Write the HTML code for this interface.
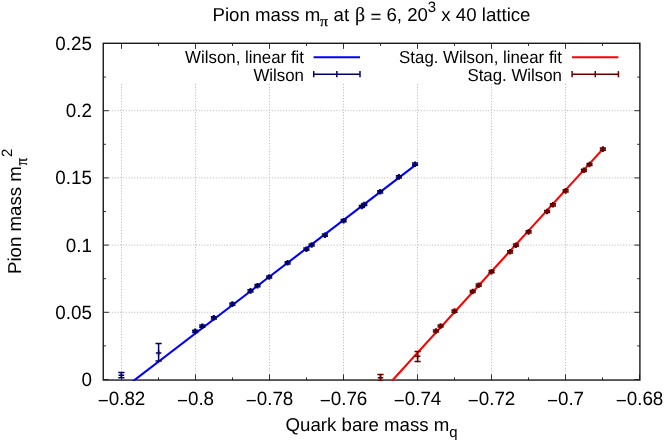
<!DOCTYPE html>
<html><head><meta charset="utf-8"><title>Pion mass</title>
<style>
html,body{margin:0;padding:0;background:#fff;}
svg{display:block;will-change:transform;}
text{font-family:"Liberation Sans",sans-serif;fill:#000;text-rendering:geometricPrecision;}
.sym{font-family:"Liberation Serif",serif;}
</style></head><body>
<svg width="664" height="442" viewBox="0 0 664 442">
<rect x="0" y="0" width="664" height="442" fill="#ffffff"/>
<g stroke="#bcbcbc" stroke-width="1" stroke-dasharray="1.1 1.71" fill="none">
<line x1="121.50" y1="380.05" x2="121.50" y2="83.5"/>
<line x1="195.50" y1="380.05" x2="195.50" y2="83.5"/>
<line x1="269.50" y1="380.05" x2="269.50" y2="83.5"/>
<line x1="343.50" y1="380.05" x2="343.50" y2="83.5"/>
<line x1="417.50" y1="380.05" x2="417.50" y2="83.5"/>
<line x1="491.50" y1="380.05" x2="491.50" y2="83.5"/>
<line x1="565.50" y1="380.05" x2="565.50" y2="83.5"/>
<line x1="103.25" y1="312.30" x2="639.90" y2="312.30"/>
<line x1="103.25" y1="245.10" x2="639.90" y2="245.10"/>
<line x1="103.25" y1="177.90" x2="639.90" y2="177.90"/>
<line x1="103.25" y1="110.70" x2="639.90" y2="110.70"/>
</g>
<g stroke="#262626" stroke-width="0.95" fill="none">
<line x1="121.50" y1="380.05" x2="121.50" y2="374.45"/><line x1="121.50" y1="43.30" x2="121.50" y2="48.90"/>
<line x1="195.50" y1="380.05" x2="195.50" y2="374.45"/><line x1="195.50" y1="43.30" x2="195.50" y2="48.90"/>
<line x1="269.50" y1="380.05" x2="269.50" y2="374.45"/><line x1="269.50" y1="43.30" x2="269.50" y2="48.90"/>
<line x1="343.50" y1="380.05" x2="343.50" y2="374.45"/><line x1="343.50" y1="43.30" x2="343.50" y2="48.90"/>
<line x1="417.50" y1="380.05" x2="417.50" y2="374.45"/><line x1="417.50" y1="43.30" x2="417.50" y2="48.90"/>
<line x1="491.50" y1="380.05" x2="491.50" y2="374.45"/><line x1="491.50" y1="43.30" x2="491.50" y2="48.90"/>
<line x1="565.50" y1="380.05" x2="565.50" y2="374.45"/><line x1="565.50" y1="43.30" x2="565.50" y2="48.90"/>
<line x1="639.50" y1="380.05" x2="639.50" y2="374.45"/><line x1="639.50" y1="43.30" x2="639.50" y2="48.90"/>
<line x1="158.50" y1="380.05" x2="158.50" y2="377.35"/><line x1="158.50" y1="43.30" x2="158.50" y2="46.00"/>
<line x1="232.50" y1="380.05" x2="232.50" y2="377.35"/><line x1="232.50" y1="43.30" x2="232.50" y2="46.00"/>
<line x1="306.50" y1="380.05" x2="306.50" y2="377.35"/><line x1="306.50" y1="43.30" x2="306.50" y2="46.00"/>
<line x1="380.50" y1="380.05" x2="380.50" y2="377.35"/><line x1="380.50" y1="43.30" x2="380.50" y2="46.00"/>
<line x1="454.50" y1="380.05" x2="454.50" y2="377.35"/><line x1="454.50" y1="43.30" x2="454.50" y2="46.00"/>
<line x1="528.50" y1="380.05" x2="528.50" y2="377.35"/><line x1="528.50" y1="43.30" x2="528.50" y2="46.00"/>
<line x1="602.50" y1="380.05" x2="602.50" y2="377.35"/><line x1="602.50" y1="43.30" x2="602.50" y2="46.00"/>
<line x1="103.25" y1="379.50" x2="108.85" y2="379.50"/><line x1="639.90" y1="379.50" x2="634.30" y2="379.50"/>
<line x1="103.25" y1="312.30" x2="108.85" y2="312.30"/><line x1="639.90" y1="312.30" x2="634.30" y2="312.30"/>
<line x1="103.25" y1="245.10" x2="108.85" y2="245.10"/><line x1="639.90" y1="245.10" x2="634.30" y2="245.10"/>
<line x1="103.25" y1="177.90" x2="108.85" y2="177.90"/><line x1="639.90" y1="177.90" x2="634.30" y2="177.90"/>
<line x1="103.25" y1="110.70" x2="108.85" y2="110.70"/><line x1="639.90" y1="110.70" x2="634.30" y2="110.70"/>
<line x1="103.25" y1="43.50" x2="108.85" y2="43.50"/><line x1="639.90" y1="43.50" x2="634.30" y2="43.50"/>
<line x1="103.25" y1="345.90" x2="105.95" y2="345.90"/><line x1="639.90" y1="345.90" x2="637.20" y2="345.90"/>
<line x1="103.25" y1="278.70" x2="105.95" y2="278.70"/><line x1="639.90" y1="278.70" x2="637.20" y2="278.70"/>
<line x1="103.25" y1="211.50" x2="105.95" y2="211.50"/><line x1="639.90" y1="211.50" x2="637.20" y2="211.50"/>
<line x1="103.25" y1="144.30" x2="105.95" y2="144.30"/><line x1="639.90" y1="144.30" x2="637.20" y2="144.30"/>
<line x1="103.25" y1="77.10" x2="105.95" y2="77.10"/><line x1="639.90" y1="77.10" x2="637.20" y2="77.10"/>
</g>
<rect x="103.25" y="43.3" width="536.65" height="336.75" fill="none" stroke="#1a1a1a" stroke-width="1.4"/>
<clipPath id="cp"><rect x="102.5" y="42.6" width="538.1" height="338.1"/></clipPath>
<g clip-path="url(#cp)">
<line x1="130.88" y1="382.80" x2="415.00" y2="165.30" stroke="#0000ff" stroke-width="2.1"/>
<line x1="390.17" y1="382.80" x2="602.80" y2="149.10" stroke="#ff0000" stroke-width="2.1"/>
<g stroke="#000066" stroke-width="1.5" fill="none"><line x1="121.40" y1="377.80" x2="121.40" y2="372.50"/><line x1="118.30" y1="377.80" x2="124.50" y2="377.80"/><line x1="118.30" y1="372.50" x2="124.50" y2="372.50"/><line x1="118.60" y1="375.20" x2="124.20" y2="375.20"/><line x1="121.40" y1="372.40" x2="121.40" y2="378.00" stroke-width="1.5"/></g>
<g stroke="#000066" stroke-width="1.5" fill="none"><line x1="158.60" y1="361.10" x2="158.60" y2="343.40"/><line x1="155.50" y1="361.10" x2="161.70" y2="361.10"/><line x1="155.50" y1="343.40" x2="161.70" y2="343.40"/><line x1="155.80" y1="353.00" x2="161.40" y2="353.00"/><line x1="158.60" y1="350.20" x2="158.60" y2="355.80" stroke-width="1.5"/></g>
<g stroke="#000066" stroke-width="1.5" fill="none"><line x1="195.20" y1="332.50" x2="195.20" y2="330.30"/><line x1="192.10" y1="332.50" x2="198.30" y2="332.50"/><line x1="192.10" y1="330.30" x2="198.30" y2="330.30"/><line x1="192.40" y1="331.40" x2="198.00" y2="331.40"/><line x1="195.20" y1="328.60" x2="195.20" y2="334.20" stroke-width="2.1"/></g>
<g stroke="#000066" stroke-width="1.5" fill="none"><line x1="202.30" y1="327.30" x2="202.30" y2="325.10"/><line x1="199.20" y1="327.30" x2="205.40" y2="327.30"/><line x1="199.20" y1="325.10" x2="205.40" y2="325.10"/><line x1="199.50" y1="326.20" x2="205.10" y2="326.20"/><line x1="202.30" y1="323.40" x2="202.30" y2="329.00" stroke-width="2.1"/></g>
<g stroke="#000066" stroke-width="1.5" fill="none"><line x1="213.90" y1="318.90" x2="213.90" y2="316.70"/><line x1="210.80" y1="318.90" x2="217.00" y2="318.90"/><line x1="210.80" y1="316.70" x2="217.00" y2="316.70"/><line x1="211.10" y1="317.80" x2="216.70" y2="317.80"/><line x1="213.90" y1="315.00" x2="213.90" y2="320.60" stroke-width="2.1"/></g>
<g stroke="#000066" stroke-width="1.5" fill="none"><line x1="232.40" y1="305.20" x2="232.40" y2="303.00"/><line x1="229.30" y1="305.20" x2="235.50" y2="305.20"/><line x1="229.30" y1="303.00" x2="235.50" y2="303.00"/><line x1="229.60" y1="304.10" x2="235.20" y2="304.10"/><line x1="232.40" y1="301.30" x2="232.40" y2="306.90" stroke-width="2.1"/></g>
<g stroke="#000066" stroke-width="1.5" fill="none"><line x1="250.50" y1="292.00" x2="250.50" y2="289.80"/><line x1="247.40" y1="292.00" x2="253.60" y2="292.00"/><line x1="247.40" y1="289.80" x2="253.60" y2="289.80"/><line x1="247.70" y1="290.90" x2="253.30" y2="290.90"/><line x1="250.50" y1="288.10" x2="250.50" y2="293.70" stroke-width="2.1"/></g>
<g stroke="#000066" stroke-width="1.5" fill="none"><line x1="257.50" y1="286.80" x2="257.50" y2="284.60"/><line x1="254.40" y1="286.80" x2="260.60" y2="286.80"/><line x1="254.40" y1="284.60" x2="260.60" y2="284.60"/><line x1="254.70" y1="285.70" x2="260.30" y2="285.70"/><line x1="257.50" y1="282.90" x2="257.50" y2="288.50" stroke-width="2.1"/></g>
<g stroke="#000066" stroke-width="1.5" fill="none"><line x1="269.20" y1="278.10" x2="269.20" y2="275.90"/><line x1="266.10" y1="278.10" x2="272.30" y2="278.10"/><line x1="266.10" y1="275.90" x2="272.30" y2="275.90"/><line x1="266.40" y1="277.00" x2="272.00" y2="277.00"/><line x1="269.20" y1="274.20" x2="269.20" y2="279.80" stroke-width="2.1"/></g>
<g stroke="#000066" stroke-width="1.5" fill="none"><line x1="287.60" y1="263.90" x2="287.60" y2="261.70"/><line x1="284.50" y1="263.90" x2="290.70" y2="263.90"/><line x1="284.50" y1="261.70" x2="290.70" y2="261.70"/><line x1="284.80" y1="262.80" x2="290.40" y2="262.80"/><line x1="287.60" y1="260.00" x2="287.60" y2="265.60" stroke-width="2.1"/></g>
<g stroke="#000066" stroke-width="1.5" fill="none"><line x1="306.40" y1="250.30" x2="306.40" y2="248.10"/><line x1="303.30" y1="250.30" x2="309.50" y2="250.30"/><line x1="303.30" y1="248.10" x2="309.50" y2="248.10"/><line x1="303.60" y1="249.20" x2="309.20" y2="249.20"/><line x1="306.40" y1="246.40" x2="306.40" y2="252.00" stroke-width="2.1"/></g>
<g stroke="#000066" stroke-width="1.5" fill="none"><line x1="311.65" y1="246.10" x2="311.65" y2="243.90"/><line x1="308.55" y1="246.10" x2="314.75" y2="246.10"/><line x1="308.55" y1="243.90" x2="314.75" y2="243.90"/><line x1="308.85" y1="245.00" x2="314.45" y2="245.00"/><line x1="311.65" y1="242.20" x2="311.65" y2="247.80" stroke-width="2.1"/></g>
<g stroke="#000066" stroke-width="1.5" fill="none"><line x1="324.90" y1="236.30" x2="324.90" y2="234.10"/><line x1="321.80" y1="236.30" x2="328.00" y2="236.30"/><line x1="321.80" y1="234.10" x2="328.00" y2="234.10"/><line x1="322.10" y1="235.20" x2="327.70" y2="235.20"/><line x1="324.90" y1="232.40" x2="324.90" y2="238.00" stroke-width="2.1"/></g>
<g stroke="#000066" stroke-width="1.5" fill="none"><line x1="343.60" y1="221.80" x2="343.60" y2="219.60"/><line x1="340.50" y1="221.80" x2="346.70" y2="221.80"/><line x1="340.50" y1="219.60" x2="346.70" y2="219.60"/><line x1="340.80" y1="220.70" x2="346.40" y2="220.70"/><line x1="343.60" y1="217.90" x2="343.60" y2="223.50" stroke-width="2.1"/></g>
<g stroke="#000066" stroke-width="1.5" fill="none"><line x1="361.80" y1="207.60" x2="361.80" y2="205.40"/><line x1="358.70" y1="207.60" x2="364.90" y2="207.60"/><line x1="358.70" y1="205.40" x2="364.90" y2="205.40"/><line x1="359.00" y1="206.50" x2="364.60" y2="206.50"/><line x1="361.80" y1="203.70" x2="361.80" y2="209.30" stroke-width="2.1"/></g>
<g stroke="#000066" stroke-width="1.5" fill="none"><line x1="364.30" y1="205.60" x2="364.30" y2="203.40"/><line x1="361.20" y1="205.60" x2="367.40" y2="205.60"/><line x1="361.20" y1="203.40" x2="367.40" y2="203.40"/><line x1="361.50" y1="204.50" x2="367.10" y2="204.50"/><line x1="364.30" y1="201.70" x2="364.30" y2="207.30" stroke-width="2.1"/></g>
<g stroke="#000066" stroke-width="1.5" fill="none"><line x1="380.20" y1="192.90" x2="380.20" y2="190.70"/><line x1="377.10" y1="192.90" x2="383.30" y2="192.90"/><line x1="377.10" y1="190.70" x2="383.30" y2="190.70"/><line x1="377.40" y1="191.80" x2="383.00" y2="191.80"/><line x1="380.20" y1="189.00" x2="380.20" y2="194.60" stroke-width="2.1"/></g>
<g stroke="#000066" stroke-width="1.5" fill="none"><line x1="398.90" y1="178.00" x2="398.90" y2="175.80"/><line x1="395.80" y1="178.00" x2="402.00" y2="178.00"/><line x1="395.80" y1="175.80" x2="402.00" y2="175.80"/><line x1="396.10" y1="176.90" x2="401.70" y2="176.90"/><line x1="398.90" y1="174.10" x2="398.90" y2="179.70" stroke-width="2.1"/></g>
<g stroke="#000066" stroke-width="1.5" fill="none"><line x1="415.05" y1="165.30" x2="415.05" y2="163.10"/><line x1="411.95" y1="165.30" x2="418.15" y2="165.30"/><line x1="411.95" y1="163.10" x2="418.15" y2="163.10"/><line x1="412.25" y1="164.20" x2="417.85" y2="164.20"/><line x1="415.05" y1="161.40" x2="415.05" y2="167.00" stroke-width="2.1"/></g>
<g stroke="#660000" stroke-width="1.5" fill="none"><line x1="380.50" y1="381.00" x2="380.50" y2="374.60"/><line x1="377.40" y1="381.00" x2="383.60" y2="381.00"/><line x1="377.40" y1="374.60" x2="383.60" y2="374.60"/><line x1="377.70" y1="377.80" x2="383.30" y2="377.80"/><line x1="380.50" y1="375.00" x2="380.50" y2="380.60" stroke-width="1.5"/></g>
<g stroke="#660000" stroke-width="1.5" fill="none"><line x1="417.60" y1="361.40" x2="417.60" y2="351.40"/><line x1="414.50" y1="361.40" x2="420.70" y2="361.40"/><line x1="414.50" y1="351.40" x2="420.70" y2="351.40"/><line x1="414.80" y1="356.30" x2="420.40" y2="356.30"/><line x1="417.60" y1="353.50" x2="417.60" y2="359.10" stroke-width="1.5"/></g>
<g stroke="#660000" stroke-width="1.5" fill="none"><line x1="435.90" y1="332.10" x2="435.90" y2="329.90"/><line x1="432.80" y1="332.10" x2="439.00" y2="332.10"/><line x1="432.80" y1="329.90" x2="439.00" y2="329.90"/><line x1="433.10" y1="331.00" x2="438.70" y2="331.00"/><line x1="435.90" y1="328.20" x2="435.90" y2="333.80" stroke-width="2.1"/></g>
<g stroke="#660000" stroke-width="1.5" fill="none"><line x1="440.60" y1="327.10" x2="440.60" y2="324.90"/><line x1="437.50" y1="327.10" x2="443.70" y2="327.10"/><line x1="437.50" y1="324.90" x2="443.70" y2="324.90"/><line x1="437.80" y1="326.00" x2="443.40" y2="326.00"/><line x1="440.60" y1="323.20" x2="440.60" y2="328.80" stroke-width="2.1"/></g>
<g stroke="#660000" stroke-width="1.5" fill="none"><line x1="454.50" y1="312.20" x2="454.50" y2="310.00"/><line x1="451.40" y1="312.20" x2="457.60" y2="312.20"/><line x1="451.40" y1="310.00" x2="457.60" y2="310.00"/><line x1="451.70" y1="311.10" x2="457.30" y2="311.10"/><line x1="454.50" y1="308.30" x2="454.50" y2="313.90" stroke-width="2.1"/></g>
<g stroke="#660000" stroke-width="1.5" fill="none"><line x1="472.70" y1="292.60" x2="472.70" y2="290.40"/><line x1="469.60" y1="292.60" x2="475.80" y2="292.60"/><line x1="469.60" y1="290.40" x2="475.80" y2="290.40"/><line x1="469.90" y1="291.50" x2="475.50" y2="291.50"/><line x1="472.70" y1="288.70" x2="472.70" y2="294.30" stroke-width="2.1"/></g>
<g stroke="#660000" stroke-width="1.5" fill="none"><line x1="478.70" y1="286.30" x2="478.70" y2="284.10"/><line x1="475.60" y1="286.30" x2="481.80" y2="286.30"/><line x1="475.60" y1="284.10" x2="481.80" y2="284.10"/><line x1="475.90" y1="285.20" x2="481.50" y2="285.20"/><line x1="478.70" y1="282.40" x2="478.70" y2="288.00" stroke-width="2.1"/></g>
<g stroke="#660000" stroke-width="1.5" fill="none"><line x1="491.55" y1="272.80" x2="491.55" y2="270.60"/><line x1="488.45" y1="272.80" x2="494.65" y2="272.80"/><line x1="488.45" y1="270.60" x2="494.65" y2="270.60"/><line x1="488.75" y1="271.70" x2="494.35" y2="271.70"/><line x1="491.55" y1="268.90" x2="491.55" y2="274.50" stroke-width="2.1"/></g>
<g stroke="#660000" stroke-width="1.5" fill="none"><line x1="510.10" y1="252.90" x2="510.10" y2="250.70"/><line x1="507.00" y1="252.90" x2="513.20" y2="252.90"/><line x1="507.00" y1="250.70" x2="513.20" y2="250.70"/><line x1="507.30" y1="251.80" x2="512.90" y2="251.80"/><line x1="510.10" y1="249.00" x2="510.10" y2="254.60" stroke-width="2.1"/></g>
<g stroke="#660000" stroke-width="1.5" fill="none"><line x1="515.90" y1="246.30" x2="515.90" y2="244.10"/><line x1="512.80" y1="246.30" x2="519.00" y2="246.30"/><line x1="512.80" y1="244.10" x2="519.00" y2="244.10"/><line x1="513.10" y1="245.20" x2="518.70" y2="245.20"/><line x1="515.90" y1="242.40" x2="515.90" y2="248.00" stroke-width="2.1"/></g>
<g stroke="#660000" stroke-width="1.5" fill="none"><line x1="528.60" y1="232.95" x2="528.60" y2="230.75"/><line x1="525.50" y1="232.95" x2="531.70" y2="232.95"/><line x1="525.50" y1="230.75" x2="531.70" y2="230.75"/><line x1="525.80" y1="231.85" x2="531.40" y2="231.85"/><line x1="528.60" y1="229.05" x2="528.60" y2="234.65" stroke-width="2.1"/></g>
<g stroke="#660000" stroke-width="1.5" fill="none"><line x1="547.10" y1="212.60" x2="547.10" y2="210.40"/><line x1="544.00" y1="212.60" x2="550.20" y2="212.60"/><line x1="544.00" y1="210.40" x2="550.20" y2="210.40"/><line x1="544.30" y1="211.50" x2="549.90" y2="211.50"/><line x1="547.10" y1="208.70" x2="547.10" y2="214.30" stroke-width="2.1"/></g>
<g stroke="#660000" stroke-width="1.5" fill="none"><line x1="552.90" y1="205.90" x2="552.90" y2="203.70"/><line x1="549.80" y1="205.90" x2="556.00" y2="205.90"/><line x1="549.80" y1="203.70" x2="556.00" y2="203.70"/><line x1="550.10" y1="204.80" x2="555.70" y2="204.80"/><line x1="552.90" y1="202.00" x2="552.90" y2="207.60" stroke-width="2.1"/></g>
<g stroke="#660000" stroke-width="1.5" fill="none"><line x1="565.60" y1="192.00" x2="565.60" y2="189.80"/><line x1="562.50" y1="192.00" x2="568.70" y2="192.00"/><line x1="562.50" y1="189.80" x2="568.70" y2="189.80"/><line x1="562.80" y1="190.90" x2="568.40" y2="190.90"/><line x1="565.60" y1="188.10" x2="565.60" y2="193.70" stroke-width="2.1"/></g>
<g stroke="#660000" stroke-width="1.5" fill="none"><line x1="583.90" y1="171.40" x2="583.90" y2="169.20"/><line x1="580.80" y1="171.40" x2="587.00" y2="171.40"/><line x1="580.80" y1="169.20" x2="587.00" y2="169.20"/><line x1="581.10" y1="170.30" x2="586.70" y2="170.30"/><line x1="583.90" y1="167.50" x2="583.90" y2="173.10" stroke-width="2.1"/></g>
<g stroke="#660000" stroke-width="1.5" fill="none"><line x1="589.50" y1="165.60" x2="589.50" y2="163.40"/><line x1="586.40" y1="165.60" x2="592.60" y2="165.60"/><line x1="586.40" y1="163.40" x2="592.60" y2="163.40"/><line x1="586.70" y1="164.50" x2="592.30" y2="164.50"/><line x1="589.50" y1="161.70" x2="589.50" y2="167.30" stroke-width="2.1"/></g>
<g stroke="#660000" stroke-width="1.5" fill="none"><line x1="602.90" y1="150.20" x2="602.90" y2="148.00"/><line x1="599.80" y1="150.20" x2="606.00" y2="150.20"/><line x1="599.80" y1="148.00" x2="606.00" y2="148.00"/><line x1="600.10" y1="149.10" x2="605.70" y2="149.10"/><line x1="602.90" y1="146.30" x2="602.90" y2="151.90" stroke-width="2.1"/></g>
</g>
<text transform="translate(304,63.3) scale(1,1.03)" font-size="16.85" text-anchor="end">Wilson, linear fit</text>
<text transform="translate(304,80.5) scale(1,1.03)" font-size="16.85" text-anchor="end">Wilson</text>
<text transform="translate(562,63.3) scale(1,1.03)" font-size="16.85" text-anchor="end">Stag. Wilson, linear fit</text>
<text transform="translate(562,80.5) scale(1,1.03)" font-size="16.85" text-anchor="end">Stag. Wilson</text>
<line x1="313.6" y1="57.3" x2="360.0" y2="57.3" stroke="#0000ff" stroke-width="2.1"/>
<line x1="572.0" y1="57.3" x2="618.4" y2="57.3" stroke="#ff0000" stroke-width="2.1"/>
<g stroke="#000066" stroke-width="1.5" fill="none"><line x1="313.7" y1="74.2" x2="360.0" y2="74.2"/><line x1="313.7" y1="71.10000000000001" x2="313.7" y2="77.3"/><line x1="360.0" y1="71.10000000000001" x2="360.0" y2="77.3"/><line x1="336.85" y1="71.10000000000001" x2="336.85" y2="77.3"/></g>
<g stroke="#660000" stroke-width="1.5" fill="none"><line x1="572.1" y1="74.2" x2="618.4" y2="74.2"/><line x1="572.1" y1="71.10000000000001" x2="572.1" y2="77.3"/><line x1="618.4" y1="71.10000000000001" x2="618.4" y2="77.3"/><line x1="595.25" y1="71.10000000000001" x2="595.25" y2="77.3"/></g>
<text transform="translate(121.50,405.1) scale(1,1.02)" font-size="18.85" text-anchor="middle"><tspan dy="1.9">−</tspan><tspan dy="-1.9">0.82</tspan></text>
<text transform="translate(195.50,405.1) scale(1,1.02)" font-size="18.85" text-anchor="middle"><tspan dy="1.9">−</tspan><tspan dy="-1.9">0.8</tspan></text>
<text transform="translate(269.50,405.1) scale(1,1.02)" font-size="18.85" text-anchor="middle"><tspan dy="1.9">−</tspan><tspan dy="-1.9">0.78</tspan></text>
<text transform="translate(343.50,405.1) scale(1,1.02)" font-size="18.85" text-anchor="middle"><tspan dy="1.9">−</tspan><tspan dy="-1.9">0.76</tspan></text>
<text transform="translate(417.50,405.1) scale(1,1.02)" font-size="18.85" text-anchor="middle"><tspan dy="1.9">−</tspan><tspan dy="-1.9">0.74</tspan></text>
<text transform="translate(491.50,405.1) scale(1,1.02)" font-size="18.85" text-anchor="middle"><tspan dy="1.9">−</tspan><tspan dy="-1.9">0.72</tspan></text>
<text transform="translate(565.50,405.1) scale(1,1.02)" font-size="18.85" text-anchor="middle"><tspan dy="1.9">−</tspan><tspan dy="-1.9">0.7</tspan></text>
<text transform="translate(639.50,405.1) scale(1,1.02)" font-size="18.85" text-anchor="middle"><tspan dy="1.9">−</tspan><tspan dy="-1.9">0.68</tspan></text>
<text transform="translate(92,385.90) scale(1,1.02)" font-size="18.85" text-anchor="end">0</text>
<text transform="translate(92,318.70) scale(1,1.02)" font-size="18.85" text-anchor="end">0.05</text>
<text transform="translate(92,251.50) scale(1,1.02)" font-size="18.85" text-anchor="end">0.1</text>
<text transform="translate(92,184.30) scale(1,1.02)" font-size="18.85" text-anchor="end">0.15</text>
<text transform="translate(92,117.10) scale(1,1.02)" font-size="18.85" text-anchor="end">0.2</text>
<text transform="translate(92,49.90) scale(1,1.02)" font-size="18.85" text-anchor="end">0.25</text>
<text x="212.5" y="20.8" font-size="18.67">Pion mass m</text>
<text transform="translate(320.1,26.4) scale(1.06,1)" font-size="14.94" class="sym" stroke="#000" stroke-width="0.25">π</text>
<text x="333.5" y="20.8" font-size="18.67">at</text>
<text x="355.1" y="21.2" font-size="19.79" class="sym" stroke="#000" stroke-width="0.15">β</text>
<text x="370.4" y="20.8" font-size="18.67"><tspan dy="2.1">=</tspan><tspan dy="-2.1"> 6, 20</tspan></text>
<text x="427.8" y="12.0" font-size="14.94">3</text>
<text x="441.3" y="20.8" font-size="18.67">x 40 lattice</text>
<text x="371.6" y="430.9" font-size="18.67" text-anchor="middle">Quark bare mass m<tspan font-size="14.94" dy="6.0">q</tspan></text>
<g transform="translate(21,274.0) rotate(-90)"><text x="0" y="0" font-size="18.67">Pion mass m</text><text transform="translate(108.5,6.0) scale(1,1.12)" font-size="14.94" class="sym" stroke="#000" stroke-width="0.25">π</text><text x="116.9" y="-9.1" font-size="14.94">2</text></g>
</svg>
</body></html>
